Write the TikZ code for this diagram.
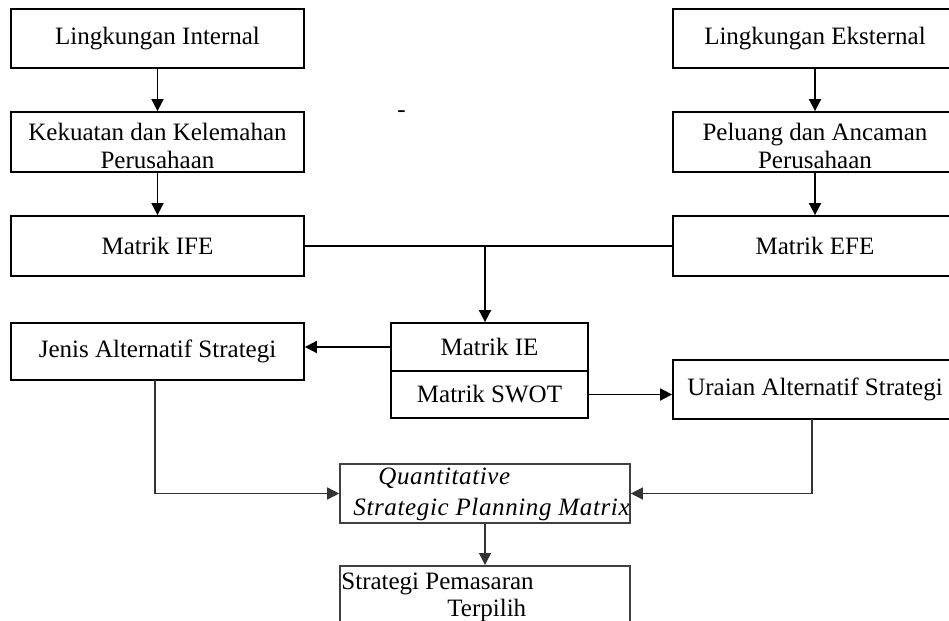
\documentclass[tikz,border=0pt]{standalone}
\usepackage{fontspec}
\setmainfont{Liberation Serif}
\usetikzlibrary{arrows.meta,calc}
\tikzset{
  box/.style={draw=black, line width=0.9pt, inner sep=0pt, align=center,
    font=\fontsize{12.5pt}{14pt}\selectfont},
  lowbox/.style={draw=black!75, line width=0.8pt, inner sep=0pt},
  conn/.style={draw=black, line width=0.9pt},
  lowconn/.style={draw=black!80, line width=0.7pt},
  arr/.style={-{Triangle[length=6pt,width=6pt]}},
  txt/.style={inner sep=0pt, font=\fontsize{12.5pt}{14pt}\selectfont},
}
\newcommand{\lowertext}[2]{\raisebox{0pt}[\dimexpr\height+4pt\relax][\depth]{\parbox{#1}{\centering #2}}}
\begin{document}
\begin{tikzpicture}[x=0.5pt,y=-0.5pt]
\useasboundingbox (0,0) rectangle (949,621);
\clip (0,0) rectangle (949,621);
\fill[white] (0,0) rectangle (949,621);

% left column
\node[box, minimum width=146.5pt, minimum height=29.5pt] (li) at (157.5,38.5) {Lingkungan Internal};
\node[box, minimum width=146.5pt, minimum height=30pt] (kk) at (157.5,142) {\lowertext{146pt}{Kekuatan dan Kelemahan\\Perusahaan}};
\node[box, minimum width=146.5pt, minimum height=30pt] (ife) at (157.5,246) {Matrik IFE};
\node[box, minimum width=146.5pt, minimum height=28.5pt] (jas) at (157.5,351.5) {Jenis Alternatif Strategi};

% right column
\node[box, minimum width=142pt, minimum height=29.5pt] (le) at (815,38.5) {Lingkungan Eksternal};
\node[box, minimum width=142pt, minimum height=30pt] (pa) at (815,142) {\lowertext{141pt}{Peluang dan Ancaman\\Perusahaan}};
\node[box, minimum width=142pt, minimum height=30pt] (efe) at (815,246) {Matrik EFE};
\node[box, minimum width=142pt, minimum height=29.5pt] (ur) at (815,389.5) {Uraian Alternatif Strategi};

% centre
\node[box, minimum width=98.5pt, minimum height=24pt] (ie) at (489.5,347) {Matrik IE};
\node[box, minimum width=98.5pt, minimum height=23.5pt] (sw) at (489.5,394.5) {Matrik SWOT};

\node[lowbox, minimum width=145pt, minimum height=29.5pt] (qs) at (485,493.5) {};
\node[txt, anchor=base west] (qs1) at (378,484) {\itshape\addfontfeatures{LetterSpace=2.5}Quantitative};
\node[txt, anchor=base west] (qs2) at (353,515) {\itshape\addfontfeatures{LetterSpace=2.5}Strategic Planning Matrix};

\node[lowbox, minimum width=145pt, minimum height=40pt, anchor=north] (sp) at (485,565) {};
\node[txt, anchor=base west] (sp1) at (341,589) {Strategi Pemasaran};
\node[txt, anchor=base west] (sp2) at (447,616) {Terpilih};

\node[txt, anchor=base] (dash) at (401.5,117.5) {-};

% connectors
\coordinate (jn) at (485,246);
\draw[conn, arr] (li) -- (kk);
\draw[conn, arr] (kk) -- (ife);
\draw[conn, arr] (le) -- (pa);
\draw[conn, arr] (pa) -- (efe);
\draw[conn] (ife.east) -- (efe.west);
\draw[conn, arr] (jn) -- (jn |- ie.north);
\draw[conn, arr] (ie.west) -- (ie.west -| jas.east);
\draw[conn, arr] (sw.east) -- (sw.east -| ur.west);
\draw[lowconn, arr] (155,380) -- (155,493.5) -- (qs.west);
\draw[lowconn, arr] (812,419) -- (812,493.5) -- (qs.east);
\draw[lowconn, arr] (qs.south) -- (sp.north);
\end{tikzpicture}
\end{document}
